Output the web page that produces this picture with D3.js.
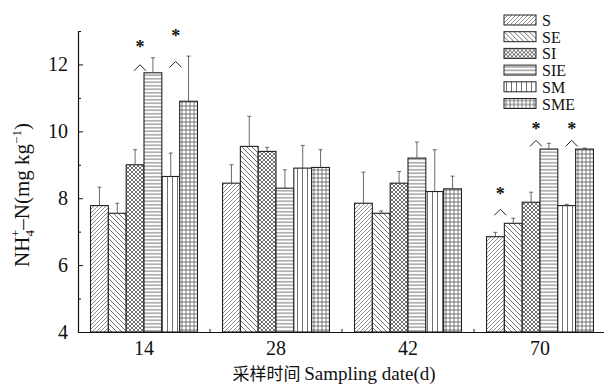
<!DOCTYPE html>
<html>
<head>
<meta charset="utf-8">
<script src="https://cdn.jsdelivr.net/npm/d3@7"></script>
<style>
  body { margin: 0; background: #fff; }
  svg { display: block; }
  text { font-family: "Liberation Serif", "DejaVu Serif", serif; fill: #111; }
</style>
</head>
<body>
<div id="chart"></div>
<script>
// sampling dates and treatments
const dates = ['14', '28', '42', '70']
const series = ['S', 'SE', 'SI', 'SIE', 'SM', 'SME']

// NH4+-N means per treatment, one row per date
const means = [
    [7.78, 7.55, 9.0, 11.75, 8.65, 10.9],
    [8.45, 9.55, 9.4, 8.3, 8.9, 8.92],
    [7.85, 7.55, 8.45, 9.2, 8.2, 8.28],
    [6.85, 7.25, 7.88, 9.47, 7.78, 9.47]
]
// top of the error bars
const errTops = [
    [8.33, 7.85, 9.45, 12.2, 9.35, 12.25],
    [9.0, 10.45, 9.52, 8.85, 9.58, 9.45],
    [8.78, 7.62, 8.8, 9.68, 9.45, 8.66],
    [6.98, 7.4, 8.18, 9.64, 7.82, 9.5]
]

// significance marks: date, bar it sits over, caret value, star value
const markDate = ['14', '14', '70', '70', '70']
const markBar = ['SI', 'SM', 'S', 'SI', 'SM']
const markCaret = [11.9, 12.0, 7.58, 9.64, 9.64]
const markStar = [12.55, 12.88, 8.15, 10.09, 10.09]

const yTicks = [4, 6, 8, 10, 12]
const yMinor = [5, 7, 9, 11, 13]

const width = 604, height = 386
const svg = d3.select('#chart').append('svg')
    .attr('width', width).attr('height', height)

const x0 = d3.scaleBand().domain(dates).range([78, 606])
    .paddingInner(0.19).paddingOuter(0.095)
const x1 = d3.scaleBand().domain(series).range([0, x0.bandwidth()])
const y = d3.scaleLinear().domain([4, 13]).range([332, 31])

// hatch patterns
const defs = svg.append('defs')
const ink = '#333'
function pat(id, size, draw) {
    const p = defs.append('pattern').attr('id', id)
        .attr('patternUnits', 'userSpaceOnUse')
        .attr('width', size).attr('height', size)
    p.append('rect').attr('width', size).attr('height', size).attr('fill', '#fff')
    draw(p)
}
pat('p-S', 4, p => p.append('path').attr('d', 'M-1,1 l2,-2 M0,4 l4,-4 M3,5 l2,-2')
    .attr('stroke', ink).attr('stroke-width', 0.55))
pat('p-SE', 5, p => p.append('path').attr('d', 'M-1,4 l2,2 M0,0 l5,5 M4,-1 l2,2')
    .attr('stroke', ink).attr('stroke-width', 0.7))
pat('p-SI', 4, p => p.append('path').attr('d', 'M0,0 l4,4 M0,4 l4,-4')
    .attr('stroke', ink).attr('stroke-width', 0.7))
pat('p-SIE', 3.5, p => p.append('path').attr('d', 'M0,1.75 h3.5')
    .attr('stroke', ink).attr('stroke-width', 0.7))
pat('p-SM', 5, p => p.append('path').attr('d', 'M2.5,0 v5')
    .attr('stroke', ink).attr('stroke-width', 0.7))
pat('p-SME', 4, p => p.append('path').attr('d', 'M0,2 h4 M2,0 v4')
    .attr('stroke', ink).attr('stroke-width', 0.65))

// flatten data
const rows = []
dates.forEach((d, i) => series.forEach((s, j) => {
    rows.push({ date: d, s, v: means[i][j], e: errTops[i][j] })
}))

const bars = svg.append('g').attr('class', 'bars')
bars.selectAll('rect')
    .data(rows)
    .join('rect')
    .attr('x', d => x0(d.date) + x1(d.s))
    .attr('y', d => y(d.v))
    .attr('width', x1.bandwidth())
    .attr('height', d => y(4) - y(d.v))
    .attr('fill', d => `url(#p-${d.s})`)
    .attr('stroke', '#222')
    .attr('stroke-width', 1.1)

// error bars (upper only)
const errs = svg.append('g').attr('class', 'errs')
    .attr('stroke', '#444').attr('stroke-width', 0.8)
errs.selectAll('line.v')
    .data(rows)
    .join('line').attr('class', 'v')
    .attr('x1', d => x0(d.date) + x1(d.s) + x1.bandwidth() / 2)
    .attr('x2', d => x0(d.date) + x1(d.s) + x1.bandwidth() / 2)
    .attr('y1', d => y(d.v))
    .attr('y2', d => y(d.e))
errs.selectAll('line.c')
    .data(rows)
    .join('line').attr('class', 'c')
    .attr('x1', d => x0(d.date) + x1(d.s) + x1.bandwidth() / 2 - 2)
    .attr('x2', d => x0(d.date) + x1(d.s) + x1.bandwidth() / 2 + 2)
    .attr('y1', d => y(d.e))
    .attr('y2', d => y(d.e))

// significance marks
const marks = markDate.map((d, i) => ({ date: d, bar: markBar[i], c: markCaret[i], s: markStar[i] }))
const mg = svg.append('g').attr('class', 'marks')
const mx = d => x0(d.date) + x1(d.bar) + x1.bandwidth() - 4
mg.selectAll('path')
    .data(marks)
    .join('path')
    .attr('d', d => `M${mx(d) - 6},${y(d.c) + 3} L${mx(d)},${y(d.c) - 3} L${mx(d) + 6},${y(d.c) + 3}`)
    .attr('fill', 'none').attr('stroke', '#222').attr('stroke-width', 1)
mg.selectAll('text')
    .data(marks)
    .join('text')
    .attr('x', mx)
    .attr('y', d => y(d.s) + 7)
    .attr('text-anchor', 'middle')
    .style('font-size', '18px')
    .style('font-weight', 'bold')
    .text('*')

// axes
const yAxis = svg.append('g').attr('transform', 'translate(78,0)')
yAxis.call(d3.axisLeft(y).tickValues(yTicks).tickSize(-5).tickSizeOuter(0).tickFormat(d3.format('d')))
yAxis.append('g').call(d3.axisLeft(y).tickValues(yMinor).tickSize(-3).tickFormat(''))
    .select('.domain').remove()
yAxis.selectAll('.tick text').style('font-size', '20px').attr('x', -10)
    .style('font-family', '"Liberation Serif", serif')

const xAxis = svg.append('g').attr('transform', `translate(0,${y(4)})`)
xAxis.call(d3.axisBottom(x0).tickSize(0).tickPadding(9).tickSizeOuter(0))
xAxis.selectAll('.tick text').style('font-size', '20px').attr('dy', '0.71em')
    .style('font-family', '"Liberation Serif", serif')
// small inward ticks between groups
xAxis.selectAll('line.sep')
    .data(dates.slice(1))
    .join('line').attr('class', 'sep')
    .attr('x1', d => x0(d) - x0.step() * x0.paddingInner() / 2)
    .attr('x2', d => x0(d) - x0.step() * x0.paddingInner() / 2)
    .attr('y1', 0).attr('y2', -3)
    .attr('stroke', '#111')
svg.selectAll('.domain').attr('stroke', '#111').attr('stroke-width', 1.2)
svg.selectAll('.tick line').attr('stroke', '#111')

// axis titles
const yt = svg.append('text')
    .attr('transform', 'translate(29,195) rotate(-90)')
    .attr('text-anchor', 'middle')
    .style('font-size', '21px')
yt.append('tspan').text('NH')
yt.append('tspan').text('4').attr('dy', 5).style('font-size', '13px')
yt.append('tspan').text('+').attr('dx', -7).attr('dy', -14).style('font-size', '13px')
yt.append('tspan').text('–N(mg kg').attr('dy', 9)
yt.append('tspan').text('−1').attr('dy', -8).style('font-size', '13px')
yt.append('tspan').text(')').attr('dy', 8)

const xt = svg.append('text')
    .attr('x', 334).attr('y', 380)
    .attr('text-anchor', 'middle')
    .style('font-size', '19px')
xt.append('tspan').text('采样时间 ').style('font-family', '"Noto Sans CJK SC", sans-serif').style('font-size', '17px')
xt.append('tspan').text('Sampling date(d)')

// legend
const lg = svg.append('g').attr('transform', 'translate(504,15)')
const li = lg.selectAll('g').data(series).join('g')
    .attr('transform', (d, i) => `translate(0,${i * 16.7})`)
li.append('rect')
    .attr('width', 32).attr('height', 10)
    .attr('fill', d => `url(#p-${d})`)
    .attr('stroke', '#222').attr('stroke-width', 1)
li.append('text')
    .attr('x', 38).attr('y', 11)
    .style('font-size', '16px')
    .text(d => d)
</script>
</body>
</html>
